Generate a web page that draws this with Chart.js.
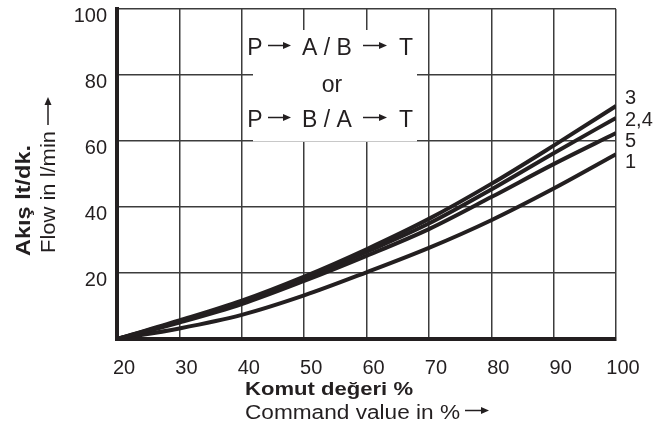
<!DOCTYPE html>
<html>
<head>
<meta charset="utf-8">
<script src="https://cdn.jsdelivr.net/npm/chart.js@4.4.1/dist/chart.umd.min.js"></script>
<style>
  html, body { margin: 0; padding: 0; background: #fff; }
  #wrap { width: 664px; height: 426px; }
</style>
</head>
<body>
<div id="wrap"><canvas id="flow" width="664" height="426"></canvas></div>
<script>
// command value in %
var commandValues = [20, 30, 40, 50, 60, 70, 80, 90, 100]
// flow in l/min
var curve3 = [0, 5.6, 11.6, 18.9, 27.2, 36.4, 47.0, 58.6, 70.6]
var curve24 = [0, 5.3, 11.0, 18.3, 26.4, 35.0, 45.3, 56.3, 67.0]
var curve5 = [0, 5.0, 10.6, 17.6, 25.2, 33.3, 43.0, 53.0, 62.4]
var curve1 = [0, 3.2, 7.3, 13.2, 20.2, 27.6, 36.0, 45.6, 56.0]
var curveNames = ['3', '2,4', '5', '1']
var yTicks = [0, 20, 40, 60, 80, 100]

var ink = '#231f20'
var gridInk = '#3c3c3c'
var fontName = '"Liberation Sans", Arial, Helvetica, sans-serif'

function pts(vals) {
    return vals.map((v, i) => ({ x: commandValues[i], y: v }))
}

// text squeezed/stretched to a given length (the source art is a bit wide)
function wideText(c, txt, x, y, len, upright) {
    c.save()
    c.translate(x, y)
    if (upright) c.rotate(-Math.PI / 2)
    const w = c.measureText(txt).width
    c.scale(len / w, 1)
    c.fillText(txt, 0, 0)
    c.restore()
}

function arrow(c, x1, y1, x2, y2) {
    const a = Math.atan2(y2 - y1, x2 - x1)
    const head = 8
    c.save()
    c.strokeStyle = ink
    c.fillStyle = ink
    c.lineWidth = 1.5
    c.beginPath()
    c.moveTo(x1, y1)
    c.lineTo(x2 - head * Math.cos(a), y2 - head * Math.sin(a))
    c.stroke()
    c.translate(x2, y2)
    c.rotate(a)
    c.beginPath()
    c.moveTo(0, 0)
    c.lineTo(-head, -3.5)
    c.lineTo(-head, 3.5)
    c.closePath()
    c.fill()
    c.restore()
}

const extras = {
    id: 'extras',
    beforeDatasetsDraw(chart) {
        const c = chart.ctx
        c.save()
        // white label box over the grid
        c.fillStyle = '#fff'
        c.fillRect(253, 30, 164, 112)
        c.strokeStyle = '#c8c8c8'
        c.lineWidth = 1
        c.beginPath()
        c.moveTo(253, 141.5)
        c.lineTo(417, 141.5)
        c.stroke()
        c.fillStyle = ink
        c.font = '23px ' + fontName
        c.textAlign = 'center'
        c.textBaseline = 'alphabetic'
        c.fillText('P', 255, 55)
        c.fillText('A / B', 327, 55)
        c.fillText('T', 406, 55)
        c.fillText('or', 332, 92)
        c.fillText('P', 255, 127)
        c.fillText('B / A', 327, 127)
        c.fillText('T', 406, 127)
        arrow(c, 268, 45.5, 291, 45.5)
        arrow(c, 363, 45.5, 387, 45.5)
        arrow(c, 268, 117.5, 291, 117.5)
        arrow(c, 363, 117.5, 387, 117.5)
        c.restore()
    },
    afterDraw(chart) {
        const c = chart.ctx
        c.save()
        c.fillStyle = ink
        // curve names at the right end
        c.textBaseline = 'middle'
        c.textAlign = 'left'
        c.font = '20px ' + fontName
        const ys = [98, 120, 141, 162]
        curveNames.forEach((n, i) => c.fillText(n, 625, ys[i]))
        // x titles
        c.textBaseline = 'alphabetic'
        c.font = 'bold 19px ' + fontName
        wideText(c, 'Komut de\u011Feri %', 245, 395, 168, false)
        c.font = '20px ' + fontName
        wideText(c, 'Command value in %', 245, 419, 215, false)
        arrow(c, 465, 410.5, 489, 410.5)
        // y titles
        c.font = 'bold 21px ' + fontName
        wideText(c, 'Ak\u0131\u015F lt/dk.', 29.5, 256, 111, true)
        c.font = '20px ' + fontName
        wideText(c, 'Flow in l/min', 55, 253, 122, true)
        arrow(c, 48, 125, 48, 97)
        c.restore()
    }
}

const chart = new Chart(document.getElementById('flow'), {
    type: 'line',
    data: {
        datasets: [curve3, curve24, curve5, curve1].map((vals, i) => ({
            label: curveNames[i],
            data: pts(vals),
            borderColor: ink,
            borderWidth: 4,
            pointRadius: 0,
            cubicInterpolationMode: 'monotone',
            fill: false
        }))
    },
    options: {
        responsive: false,
        animation: false,
        events: [],
        layout: { padding: { top: 9, right: 48, left: 0, bottom: 0 } },
        plugins: { legend: { display: false }, tooltip: { enabled: false } },
        scales: {
            x: {
                type: 'linear',
                min: 20,
                max: 100,
                ticks: {
                    stepSize: 10,
                    color: ink,
                    font: { family: fontName, size: 20 },
                    padding: 17,
                    labelOffset: 7,
                    maxRotation: 0
                },
                grid: { color: gridInk, lineWidth: 1.5, drawTicks: false },
                border: { color: ink, width: 4 },
                afterFit: s => { s.height = 87; s.paddingLeft = 0; s.paddingRight = 0 }
            },
            y: {
                min: 0,
                max: 100,
                afterBuildTicks: s => { s.ticks = yTicks.map(v => ({ value: v })) },
                ticks: {
                    color: ink,
                    font: { family: fontName, size: 20 },
                    padding: 10,
                    labelOffset: 7,
                    callback: v => v === 0 ? '' : v
                },
                grid: { color: gridInk, lineWidth: 1.5, drawTicks: false },
                border: { color: ink, width: 4 },
                afterFit: s => { s.width = 117; s.paddingTop = 0; s.paddingBottom = 0 }
            }
        }
    },
    plugins: [extras]
})
</script>
</body>
</html>
